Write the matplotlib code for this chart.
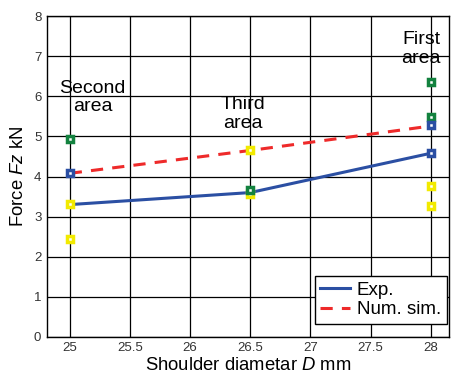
import numpy as np
import matplotlib.pyplot as plt

plt.rcParams['font.family'] = ['Liberation Sans', 'DejaVu Sans']
plt.rcParams['mathtext.fontset'] = 'custom'
plt.rcParams['mathtext.rm'] = 'Liberation Sans'
plt.rcParams['mathtext.it'] = 'Liberation Sans:italic'

######################### data ################################################
diam = [25, 26.5, 28]
exp_force = [3.3, 3.6, 4.58]
sim_force = [4.08, 4.65, 5.26]

green_x = [25, 26.5, 28, 28]
green_y = [4.93, 3.67, 6.37, 5.48]
blue_x = [25, 28, 28]
blue_y = [4.08, 5.28, 4.58]
yellow_x = [25, 25, 26.5, 26.5, 28, 28]
yellow_y = [3.31, 2.43, 4.65, 3.57, 3.77, 3.27]

area_labels = ["Second\narea", "Third\narea", "First\narea"]
area_x = [25.19, 26.44, 27.92]
area_y = [5.98, 5.56, 7.18]

######################### plot ################################################
fig = plt.figure(figsize=(4.51, 3.76), dpi=100)
ax = fig.add_axes([0.104, 0.104, 0.891, 0.853])

ax.grid(True, color='black', linewidth=0.9)
ax.set_axisbelow(True)

ax.plot(diam, exp_force, color='#2b4fa3', linewidth=2.2, label='Exp.', zorder=2)
ax.plot(diam, sim_force, color='#ee2a2a', linewidth=2.2, linestyle=(0, (4, 3)),
        label='Num. sim.', zorder=2)

mk = dict(marker='s', linestyle='none', markersize=4.7, markeredgewidth=2.5,
          markerfacecolor='white', zorder=3)
ax.plot(yellow_x, yellow_y, markeredgecolor='#f2ea00', **mk)
ax.plot(green_x, green_y, markeredgecolor='#13823f', **mk)
ax.plot(blue_x, blue_y, markeredgecolor='#2b4fa3', **mk)

for lab, xx, yy in zip(area_labels, area_x, area_y):
    ax.text(xx, yy, lab, ha='center', va='center', fontsize=14,
            linespacing=1.1, zorder=4)

ax.set_xlim(24.81, 28.15)
ax.set_ylim(0, 8)
ax.set_xticks([25, 25.5, 26, 26.5, 27, 27.5, 28])
ax.set_xticklabels(['25', '25.5', '26', '26.5', '27', '27.5', '28'])
ax.set_yticks(range(0, 9))
ax.tick_params(labelsize=9.5, length=0, pad=4, colors='#333333', labelcolor='#333333')
for s in ax.spines.values():
    s.set_linewidth(1.0)

ax.set_xlabel('Shoulder diametar $\\mathit{D}$ mm', fontsize=13.3, labelpad=2)
ax.set_ylabel('Force $\\mathit{Fz}$ kN', fontsize=13.3, labelpad=5)

leg = ax.legend(loc='lower right', bbox_to_anchor=(0.995, 0.04), fontsize=13.5,
                fancybox=False, framealpha=1, edgecolor='black', handlelength=1.6,
                borderpad=0.3, labelspacing=0.15, handletextpad=0.35, borderaxespad=0)
leg.get_frame().set_linewidth(1.0)

fig.savefig('out.png', dpi=100)
